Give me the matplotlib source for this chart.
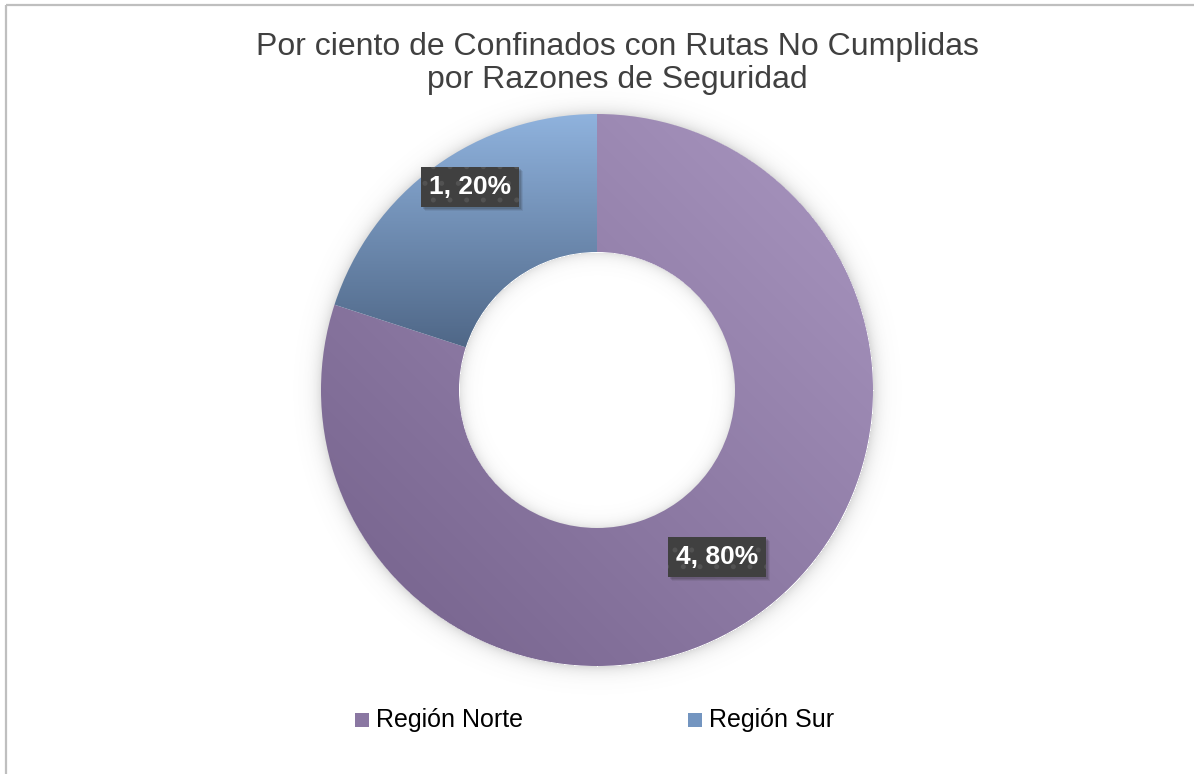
import numpy as np
import matplotlib
matplotlib.use('Agg')
import matplotlib.pyplot as plt
from matplotlib.colors import LinearSegmentedColormap
from matplotlib.patches import Rectangle

plt.rcParams['font.family'] = ['Liberation Sans', 'DejaVu Sans']
plt.rcParams['hatch.linewidth'] = 1.2

# Datos
categorias = ['Región Norte', 'Región Sur']
valores = [4, 1]
titulo = ['Por ciento de Confinados con Rutas No Cumplidas', 'por Razones de Seguridad']

# Colores (degradados tipo Excel)
grad_norte = ('#73608A', '#AA97C1')
grad_sur = ('#4F6787', '#8FB2DD')
leyenda_col = ['#8A77A2', '#7395C0']

W, H = 1194, 774
fig = plt.figure(figsize=(W / 100, H / 100), dpi=100)
ax = fig.add_axes([0, 0, 1, 1])
ax.set_xlim(0, W)
ax.set_ylim(0, H)
ax.set_aspect('equal')
ax.axis('off')

cx, cy = 597, H - 390
R, r = 276, 138

# Sombra suave alrededor del anillo
yy, xx = np.mgrid[0:H, 0:W]
d = np.hypot(xx - cx, (H - yy) - cy)
fuera = np.clip(d - R, 0, None)
dentro = np.clip(r - d, 0, None)
alpha = np.where(d > R, 0.22 * np.exp(-fuera / 7.0), 0) + np.where(d < r, 0.18 * np.exp(-dentro / 6.0), 0)
sombra = np.zeros((H, W, 4))
sombra[..., :3] = 0.35
sombra[..., 3] = alpha
ax.imshow(sombra, extent=(0, W, 0, H), origin='upper', zorder=1, interpolation='bilinear')

wedges, _ = ax.pie(valores, center=(cx, cy), radius=R, startangle=90, counterclock=False,
                   wedgeprops=dict(width=R - r, facecolor='none', edgecolor='none'))
ax.set_xlim(0, W)
ax.set_ylim(0, H)

# Degradado Norte: diagonal (arriba-derecha claro, abajo-izquierda oscuro)
cmap_n = LinearSegmentedColormap.from_list('n', list(grad_norte))
g = (xx - (cx - R)) / (2 * R) * 0.5 + ((H - yy) - (cy - R)) / (2 * R) * 0.5
im = ax.imshow(np.clip(g, 0, 1), cmap=cmap_n, vmin=0, vmax=1, extent=(0, W, 0, H),
               origin='upper', zorder=2)
im.set_clip_path(wedges[0])

# Degradado Sur: vertical
cmap_s = LinearSegmentedColormap.from_list('s', list(grad_sur))
y0, y1 = H - 347, H - 115
gs = ((H - yy) - y0) / (y1 - y0)
im2 = ax.imshow(np.clip(gs, 0, 1), cmap=cmap_s, vmin=0, vmax=1, extent=(0, W, 0, H),
                origin='upper', zorder=2)
im2.set_clip_path(wedges[1])

# Etiquetas de datos
total = sum(valores)
pos_etiquetas = [(717, H - 557), (470, H - 187)]
etiquetas = []
for v, (px, py) in zip(valores, pos_etiquetas):
    t = ax.text(px, py, f'{v}, {round(v / total * 100)}%', ha='center', va='center',
                fontsize=19, fontweight='bold', color='white', zorder=5,
                bbox=dict(boxstyle='square,pad=0.3', fc='#404040', ec='#525252', lw=0, hatch='.'))
    etiquetas.append(t)

# sombra de las cajas de etiqueta
fig.canvas.draw()
inv = ax.transData.inverted()
for t in etiquetas:
    bb = t.get_bbox_patch().get_window_extent()
    (x0, yb), (x1, yt) = inv.transform([[bb.x0, bb.y0], [bb.x1, bb.y1]])
    for k, a in [(4, 0.08), (3, 0.12), (2, 0.15)]:
        ax.add_patch(Rectangle((x0 + k, yb - k), x1 - x0, yt - yb, fc='#202020', alpha=a,
                               lw=0, zorder=4))

# Titulo
ax.text(617, H - 55, titulo[0], ha='center', va='baseline', fontsize=23, color='#404040', zorder=5)
ax.text(617, H - 88, titulo[1], ha='center', va='baseline', fontsize=23, color='#404040', zorder=5)

# Leyenda
ley_x = [355, 688]
for x, nombre, col in zip(ley_x, categorias, leyenda_col):
    ax.add_patch(Rectangle((x, H - 727), 14, 14, fc=col, ec='none', zorder=5))
    ax.text(x + 21, H - 720, nombre, ha='left', va='center', fontsize=18, color='black', zorder=5)

# Borde del area del grafico
ax.plot([5.5, 5.5], [0, H - 4.5], color='#BFBFBF', lw=1.6, zorder=6, solid_capstyle='butt')
ax.plot([5.5, W], [H - 4.5, H - 4.5], color='#BFBFBF', lw=1.6, zorder=6, solid_capstyle='butt')

fig.savefig('out.png', dpi=100, facecolor='white')
